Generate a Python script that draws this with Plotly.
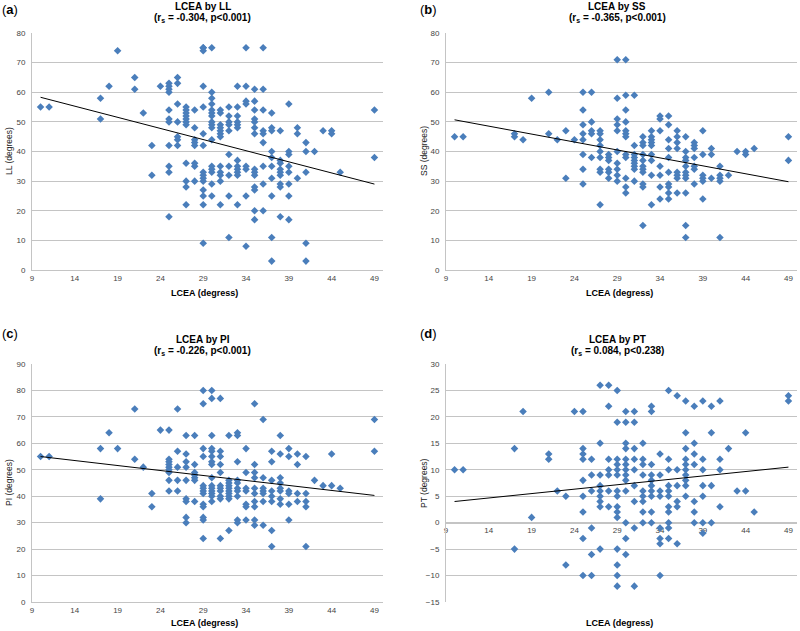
import plotly.graph_objects as go

# ---------------- data ----------------
lcea_levels_a = [10, 11, 17, 18, 19, 21, 22, 23, 24, 25, 26, 27, 28, 29, 30, 31, 32, 33, 34, 35, 36, 37, 38, 39, 40, 41, 42, 43, 44, 45, 49]
ll_groups = [
    [55], [55], [58, 51], [62], [74], [65, 61], [53], [42, 32], [62],
    [63, 62, 61, 60, 54, 51, 50, 42, 35, 33, 18],
    [65, 63, 56, 50, 45, 44, 42],
    [55, 54, 53, 52, 51, 50, 49, 36, 30, 28, 22],
    [54, 48, 44, 43, 42, 36, 35, 30],
    [75, 75, 74, 62, 55, 46, 42, 33, 32, 31, 30, 27, 25, 22, 9],
    [75, 60, 58, 56, 54, 53, 52, 50, 49, 48, 44, 35, 34, 33, 29, 25],
    [54, 53, 49, 48, 47, 46, 45, 35, 33, 32, 30, 22],
    [55, 52, 50, 49, 47, 39, 35, 32, 25, 11],
    [62, 55, 52, 50, 49, 48, 37, 35, 34, 33, 32, 22],
    [75, 62, 57, 56, 35, 34, 25, 8],
    [61, 57, 54, 51, 50, 48, 46, 34, 33, 32, 28, 27, 20, 17],
    [75, 61, 54, 47, 46, 43, 35, 29, 20],
    [53, 48, 47, 40, 38, 35, 31, 25, 11, 3],
    [47, 37, 36, 34, 33, 32, 29, 28, 18],
    [56, 40, 39, 35, 33, 29, 25, 17],
    [48, 46, 31],
    [43, 40, 33, 9, 3],
    [40], [47], [47, 46], [33], [54, 38],
]

lcea_levels_b = lcea_levels_a
ss_groups = [
    [45], [45], [46, 45], [44], [58], [60, 46], [44], [47, 31], [44],
    [60, 54, 49, 46, 44, 39, 34, 29],
    [60, 50, 47, 46, 38],
    [47, 46, 44, 42, 40, 38, 34, 33, 22],
    [39, 38, 37, 34, 33, 31],
    [71, 58, 51, 49, 47, 40, 36, 34, 32, 30],
    [71, 59, 54, 50, 47, 46, 45, 39, 38, 31, 28, 26],
    [59, 42, 39, 38, 37, 36, 35, 34, 30],
    [45, 43, 42, 39, 37, 35, 34, 33, 29, 28, 15],
    [47, 45, 44, 43, 42, 39, 37, 32, 22],
    [52, 51, 47, 35, 32, 28, 24],
    [52, 49, 44, 41, 38, 33, 29, 28, 26, 24],
    [47, 45, 43, 41, 33, 32, 31, 26],
    [45, 40, 38, 37, 35, 33, 32, 31, 26, 15, 11],
    [43, 42, 41, 38, 35, 34, 29],
    [47, 39, 32, 31, 30, 24],
    [41, 39, 31],
    [35, 32, 31, 30, 11],
    [32], [40], [40, 39], [41], [45, 37],
]

lcea_levels_c = lcea_levels_a
pi_groups = [
    [55], [55], [58, 39], [64], [58], [73, 54], [51], [41, 36], [65],
    [65, 54, 53, 52, 51, 50, 49, 46, 42],
    [73, 57, 51, 46, 42],
    [63, 56, 53, 51, 46, 39, 38, 32, 30],
    [63, 52, 49, 48, 47, 46, 38],
    [80, 75, 58, 55, 44, 43, 42, 41, 37, 36, 32, 31, 24],
    [80, 77, 63, 58, 57, 55, 53, 52, 47, 44, 43, 42, 41, 40, 38],
    [77, 57, 55, 52, 49, 44, 43, 42, 40, 39, 24],
    [63, 46, 45, 44, 43, 42, 41, 40, 39, 27],
    [64, 63, 53, 46, 45, 43, 42, 40, 31, 30],
    [58, 49, 43, 42, 37, 36, 31],
    [75, 52, 49, 47, 43, 41, 38, 36, 31, 29],
    [69, 47, 43, 42, 41, 38, 29],
    [57, 53, 46, 42, 40, 38, 27, 21],
    [63, 56, 47, 45, 43, 42, 39, 37],
    [58, 55, 42, 41, 37, 31],
    [56, 52, 41, 38],
    [55, 41, 38, 36, 21],
    [46], [44], [56, 44], [43], [69, 57],
]

lcea_levels_d = lcea_levels_a
pt_groups = [
    [10], [10], [14, -5], [21], [1], [13, 12], [6], [5, -8], [21],
    [21, 14, 13, 12, 8, 5, 2, -3, -10],
    [12, 9, 6, -1, -6, -10],
    [26, 15, 9, 7, 6, 5, 4, 3, -5],
    [26, 22, 12, 10, 9, 6, 3],
    [25, 19, 12, 11, 10, 9, 6, 5, 3, 2, 1, -5, -8, -10, -12],
    [21, 19, 15, 14, 12, 11, 10, 9, 8, 6, 0, -3, -6],
    [21, 19, 14, 12, 10, 7, 4, -1, -12],
    [15, 12, 11, 9, 6, 5, 4, 2, 0],
    [22, 21, 11, 9, 8, 7, 6, 5, 2, 0],
    [13, 9, 6, 5, -1, -3, -4, -10],
    [25, 12, 10, 7, 6, 5, 3, 2, 0, -1, -3],
    [24, 10, 7, 4, 3, -4],
    [23, 17, 14, 12, 11, 10, 9, 8, 7, 5],
    [22, 15, 13, 11, 4, 2, 0],
    [23, 12, 10, 7, 5, 0, -2],
    [22, 17, 7, 0],
    [23, 12, 10, 3],
    [14], [6], [17, 6], [2], [24, 23],
]

# linear trend lines (end points)
trend_x = [10, 49]
trend_ll = [58.3, 29.0]
trend_ss = [50.7, 29.8]
trend_pi = [55.0, 40.3]
trend_pt = [4.0, 10.5]

titles = ["LCEA by LL", "LCEA by SS", "LCEA by PI", "LCEA by PT"]
stats = ["(r<sub>s</sub> = -0.304, p<0.001)", "(r<sub>s</sub> = -0.365, p<0.001)",
         "(r<sub>s</sub> = -0.226, p<0.001)", "(r<sub>s</sub> = 0.084, p<0.238)"]
ytitles = ["LL (degrees)", "SS (degrees)", "PI (degrees)", "PT (degrees)"]
letters = ["a", "b", "c", "d"]
x_title = "LCEA (degress)"


def expand(levels, groups):
    xs, ys = [], []
    for lv, g in zip(levels, groups):
        for v in g:
            xs.append(lv)
            ys.append(v)
    return xs, ys


W, H = 800, 631
BLUE = "#4A7EBB"
GRID = "#c4c4c4"
FONT = "Liberation Sans, Arial, Helvetica, sans-serif"

fig = go.Figure()

panels = [
    (lcea_levels_a, ll_groups, trend_ll, "x", "y"),
    (lcea_levels_b, ss_groups, trend_ss, "x2", "y2"),
    (lcea_levels_c, pi_groups, trend_pi, "x3", "y3"),
    (lcea_levels_d, pt_groups, trend_pt, "x4", "y4"),
]
for lv, grp, tr, xa, ya in panels:
    xs, ys = expand(lv, grp)
    fig.add_trace(go.Scatter(x=xs, y=ys, mode="markers", xaxis=xa, yaxis=ya,
                             marker=dict(symbol="diamond", size=5.8, color=BLUE,
                                         line=dict(width=0)),
                             showlegend=False, hoverinfo="x+y", cliponaxis=False))
    fig.add_trace(go.Scatter(x=trend_x, y=tr, mode="lines", xaxis=xa, yaxis=ya,
                             line=dict(color="#000000", width=1),
                             showlegend=False, hoverinfo="skip"))

# pixel layout
left_dom = [32 / W, 383 / W]
right_dom = [446 / W, 797 / W]
top_dom = [1 - 270 / H, 1 - 33 / H]
bot_dom = [1 - 602 / H, 1 - 364 / H]

xcommon = dict(range=[9, 50], tick0=9, dtick=5, showgrid=False, zeroline=False,
               showline=True, linecolor=GRID, linewidth=1, ticks="",
               ticklabeloverflow="allow",
               tickfont=dict(size=8, color="#444444", family=FONT))
ycommon = dict(showgrid=True, gridcolor=GRID, gridwidth=1, zeroline=False,
               showline=True, linecolor=GRID, linewidth=1, ticks="",
               ticklabelstandoff=4,
               tickfont=dict(size=8, color="#444444", family=FONT))

y0_frac_d = 15 / 45
pos_d = bot_dom[0] + y0_frac_d * (bot_dom[1] - bot_dom[0])

fig.update_layout(
    width=W, height=H, margin=dict(l=0, r=0, t=0, b=0, autoexpand=False),
    paper_bgcolor="white", plot_bgcolor="white",
    font=dict(family=FONT, color="#000000"),
    xaxis=dict(domain=left_dom, anchor="y", **xcommon),
    yaxis=dict(domain=top_dom, anchor="x", range=[0, 80], dtick=10, **ycommon),
    xaxis2=dict(domain=right_dom, anchor="y2", **xcommon),
    yaxis2=dict(domain=top_dom, anchor="x2", range=[0, 80], dtick=10, **ycommon),
    xaxis3=dict(domain=left_dom, anchor="y3", **xcommon),
    yaxis3=dict(domain=bot_dom, anchor="x3", range=[0, 90], dtick=10, **ycommon),
    xaxis4=dict(domain=right_dom, anchor="free", position=pos_d, layer="below traces", **xcommon),
    yaxis4=dict(domain=bot_dom, anchor="x4", range=[-15, 30], dtick=5, **ycommon),
)

ann = []
centers_x = [203, 617, 203, 617]
title_y = [6.5, 6.5, 339, 339]
stat_y = [18, 18, 351, 351]
letter_pos = [(10, 10), (428, 10), (10, 333), (428, 333)]
ytitle_pos = [(9, 151), (424, 151), (9, 483), (424, 483)]
xtitle_pos = [(205, 293), (619, 293), (205, 623), (619, 623)]

for i in range(4):
    ann.append(dict(text="<b>" + titles[i] + "</b>", x=centers_x[i] / W, y=1 - title_y[i] / H,
                    xref="paper", yref="paper", showarrow=False, xanchor="center", yanchor="middle",
                    font=dict(size=10, family=FONT)))
    ann.append(dict(text="<b>" + stats[i] + "</b>", x=centers_x[i] / W, y=1 - stat_y[i] / H,
                    xref="paper", yref="paper", showarrow=False, xanchor="center", yanchor="middle",
                    font=dict(size=10, family=FONT)))
    lx, ly = letter_pos[i]
    ann.append(dict(text="(<b>" + letters[i] + "</b>)", x=lx / W, y=1 - ly / H,
                    xref="paper", yref="paper", showarrow=False, xanchor="center", yanchor="middle",
                    font=dict(size=13, family=FONT)))
    tx, ty = ytitle_pos[i]
    ann.append(dict(text=ytitles[i], x=tx / W, y=1 - ty / H, textangle=-90,
                    xref="paper", yref="paper", showarrow=False, xanchor="center", yanchor="middle",
                    font=dict(size=8.5, family=FONT, color="#222222")))
    xx, xy = xtitle_pos[i]
    ann.append(dict(text="<b>" + x_title + "</b>", x=xx / W, y=1 - xy / H,
                    xref="paper", yref="paper", showarrow=False, xanchor="center", yanchor="middle",
                    font=dict(size=9, family=FONT)))

fig.update_layout(annotations=ann)
fig.write_html("out.html", config={"displayModeBar": False},
               post_script="document.body.style.margin='0';document.body.style.overflow='hidden';")
